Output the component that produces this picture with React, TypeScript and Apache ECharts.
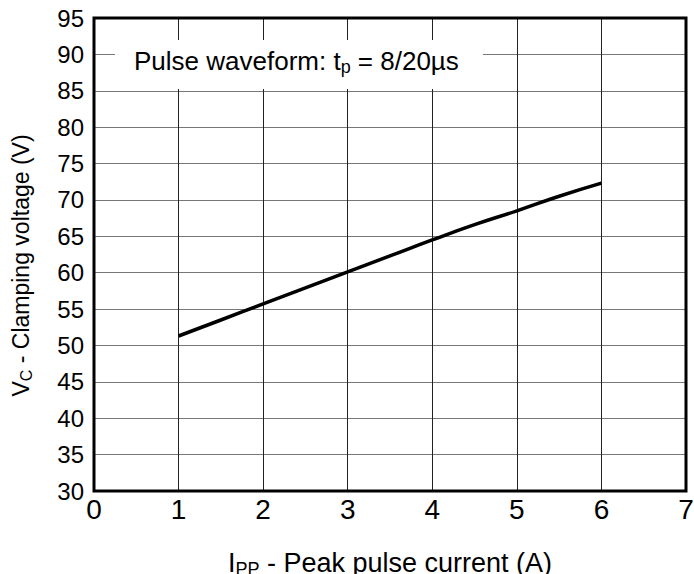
import React, { useEffect, useRef } from "react";
import * as echarts from "echarts";

const currentA = [1, 1.5, 2, 2.5, 3, 3.5, 4, 4.5, 5, 5.5, 6];
const clampV = [51.3, 53.5, 55.7, 57.9, 60.1, 62.3, 64.5, 66.6, 68.5, 70.5, 72.3];
const xTicks = [0, 1, 2, 3, 4, 5, 6, 7];
const yTicks = [30, 35, 40, 45, 50, 55, 60, 65, 70, 75, 80, 85, 90, 95];

const FONT = "Liberation Sans, Arial, sans-serif";

function richSub(main: number, sub: number, lh: number) {
  return {
    m: { fontSize: main, color: "#000", fill: "#000", fontFamily: FONT, lineHeight: lh, verticalAlign: "middle" },
    s: { fontSize: sub, color: "#000", fill: "#000", fontFamily: FONT, lineHeight: 2, verticalAlign: "bottom" },
  };
}

export default function App() {
  const ref = useRef<HTMLDivElement>(null);
  useEffect(() => {
    if (!ref.current) return;
    const chart = echarts.init(ref.current, null, { renderer: "svg" });
    chart.setOption({
      animation: false,
      backgroundColor: "#fff",
      textStyle: { fontFamily: FONT },
      grid: {
        left: 94,
        top: 18,
        width: 592,
        height: 473,
        containLabel: false,
        outerBoundsMode: "none",
        show: true,
        borderColor: "#000",
        borderWidth: 3,
        backgroundColor: "transparent",
        z: 3,
      },
      xAxis: {
        type: "value",
        min: xTicks[0],
        max: xTicks[xTicks.length - 1],
        interval: 1,
        axisLine: { show: false },
        axisTick: { show: false },
        axisLabel: { color: "#000", fontSize: 28, fontFamily: FONT, margin: 4 },
        splitLine: { show: true, lineStyle: { color: "#222", width: 1 } },
        name: "{m|I}{s|PP}{m| - Peak pulse current (A)}",
        nameLocation: "middle",
        nameGap: 57,
        nameTextStyle: { rich: richSub(27, 18, 30) },
      },
      yAxis: {
        type: "value",
        min: yTicks[0],
        max: yTicks[yTicks.length - 1],
        interval: 5,
        axisLine: { show: false },
        axisTick: { show: false },
        axisLabel: { color: "#000", fontSize: 24, fontFamily: FONT, margin: 10 },
        splitLine: { show: true, lineStyle: { color: "#777", width: 1 } },
        name: "{m|V}{s|C}{m| - Clamping voltage (V)}",
        nameLocation: "middle",
        nameGap: 60,
        nameRotate: 90,
        nameTextStyle: { rich: richSub(23, 16, 26), padding: [0, 22, 0, 0] },
      },
      series: [
        {
          type: "line",
          data: currentA.map((x, i) => [x, clampV[i]]),
          showSymbol: false,
          smooth: true,
          lineStyle: { color: "#000", width: 3.5 },
          z: 5,
        },
      ],
      graphic: [
        {
          type: "rect",
          shape: { x: 115, y: 40, width: 368, height: 49 },
          style: { fill: "#fff" },
          z: 10,
        },
        {
          type: "text",
          x: 134,
          y: 61,
          z: 11,
          style: {
            text: "{m|Pulse waveform: t}{s|p}{m| = 8/20µs}",
            verticalAlign: "middle",
            rich: richSub(26, 18, 30),
          },
        },
      ],
    });
    return () => chart.dispose();
  }, []);
  return (
    <div
      ref={ref}
      style={{ position: "fixed", left: 0, top: 0, width: 694, height: 574 }}
    />
  );
}
